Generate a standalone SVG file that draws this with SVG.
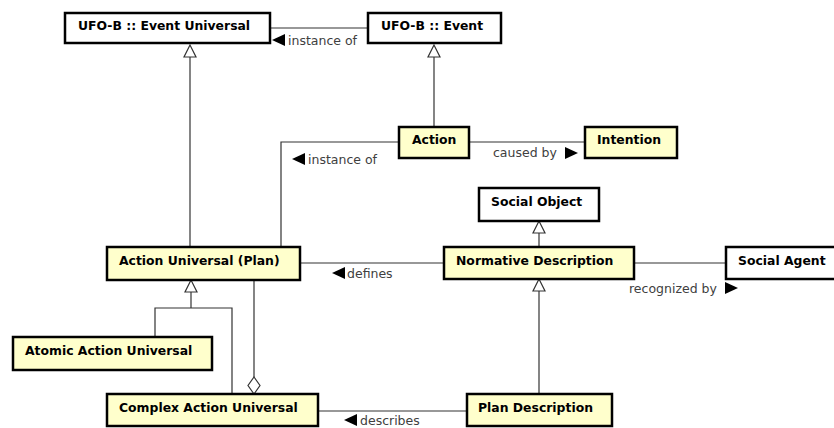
<svg xmlns="http://www.w3.org/2000/svg" width="834" height="428" viewBox="0 0 834 428">
  <style>
    .box { stroke: #000; stroke-width: 2.5; }
    .plain { fill: #ffffff; }
    .yellow { fill: #ffffcc; }
    .name { font-family: "DejaVu Sans", sans-serif; font-size: 12.4px; font-weight: bold; fill: #000; }
    .edge { fill: none; stroke: #333; stroke-width: 1.2; }
    .lbl { font-family: "DejaVu Sans", sans-serif; font-size: 12.5px; fill: #404040; }
    .tri { fill: #000; }
    .gen { fill: #fff; stroke: #333; stroke-width: 1.2; }
  </style>

  <!-- connectors -->
  <g id="connectors">
    <!-- Event -> Event Universal : instance of -->
    <line class="edge" x1="270" y1="28" x2="368" y2="28"/>
    <polygon class="tri" points="272,40 285,34 285,46"/>
    <text class="lbl" x="288" y="45">instance of</text>

    <!-- Action Universal (Plan) generalizes Event Universal -->
    <line class="edge" x1="190" y1="57" x2="190" y2="247"/>
    <polygon class="gen" points="190,45 184,57 196,57"/>

    <!-- Action generalizes Event -->
    <line class="edge" x1="434" y1="57" x2="434" y2="127"/>
    <polygon class="gen" points="434,45 428,57 440,57"/>

    <!-- Action -> Intention : caused by -->
    <line class="edge" x1="469" y1="142" x2="585" y2="142"/>
    <text class="lbl" x="493" y="157">caused by</text>
    <polygon class="tri" points="578,153 565,147 565,159"/>

    <!-- Action -> Action Universal : instance of -->
    <polyline class="edge" points="399,142 281,142 281,247"/>
    <polygon class="tri" points="292,159 305,153 305,165"/>
    <text class="lbl" x="308" y="164">instance of</text>

    <!-- Normative Description generalizes Social Object -->
    <line class="edge" x1="539" y1="233" x2="539" y2="247"/>
    <polygon class="gen" points="539,221 533,233 545,233"/>

    <!-- Action Universal (Plan) - Normative Description : defines -->
    <line class="edge" x1="300" y1="263" x2="444" y2="263"/>
    <polygon class="tri" points="332,273 345,267 345,279"/>
    <text class="lbl" x="347" y="278">defines</text>

    <!-- Normative Description - Social Agent : recognized by -->
    <line class="edge" x1="634" y1="263" x2="726" y2="263"/>
    <text class="lbl" x="629" y="293">recognized by</text>
    <polygon class="tri" points="738,288 725,282 725,294"/>

    <!-- Atomic / Complex generalize Action Universal (Plan) -->
    <polygon class="gen" points="191,280 185,292 197,292"/>
    <line class="edge" x1="191" y1="292" x2="191" y2="308"/>
    <polyline class="edge" points="155,337 155,308 232,308 232,394"/>

    <!-- Complex Action Universal aggregates Action Universal (Plan) -->
    <line class="edge" x1="254" y1="280" x2="254" y2="377"/>
    <polygon class="gen" points="254,377 260,385.5 254,394 248,385.5"/>

    <!-- Plan Description generalizes Normative Description -->
    <line class="edge" x1="539" y1="291" x2="539" y2="394"/>
    <polygon class="gen" points="539,279 533,291 545,291"/>

    <!-- Complex Action Universal - Plan Description : describes -->
    <line class="edge" x1="318" y1="411" x2="467" y2="411"/>
    <polygon class="tri" points="344,420 357,414 357,426"/>
    <text class="lbl" x="360" y="425">describes</text>
  </g>

  <!-- nodes -->
  <g id="event-universal">
    <rect class="box plain" x="65" y="13" width="205" height="30"/>
    <text class="name" x="78" y="30">UFO-B :: Event Universal</text>
  </g>
  <g id="event">
    <rect class="box plain" x="368" y="13" width="133" height="30"/>
    <text class="name" x="381" y="30">UFO-B :: Event</text>
  </g>
  <g id="action">
    <rect class="box yellow" x="399" y="127" width="70" height="31"/>
    <text class="name" x="412" y="144">Action</text>
  </g>
  <g id="intention">
    <rect class="box yellow" x="585" y="127" width="92" height="31"/>
    <text class="name" x="597" y="144">Intention</text>
  </g>
  <g id="social-object">
    <rect class="box plain" x="479" y="188" width="120" height="33"/>
    <text class="name" x="491" y="206">Social Object</text>
  </g>
  <g id="action-universal-plan">
    <rect class="box yellow" x="107" y="247" width="193" height="33"/>
    <text class="name" x="119" y="265">Action Universal (Plan)</text>
  </g>
  <g id="normative-description">
    <rect class="box yellow" x="444" y="247" width="190" height="32"/>
    <text class="name" x="456" y="265">Normative Description</text>
  </g>
  <g id="social-agent">
    <rect class="box plain" x="726" y="247" width="114" height="32"/>
    <text class="name" x="738" y="265">Social Agent</text>
  </g>
  <g id="atomic-action-universal">
    <rect class="box yellow" x="13" y="337" width="199" height="33"/>
    <text class="name" x="25" y="355">Atomic Action Universal</text>
  </g>
  <g id="complex-action-universal">
    <rect class="box yellow" x="107" y="394" width="211" height="32"/>
    <text class="name" x="119" y="412">Complex Action Universal</text>
  </g>
  <g id="plan-description">
    <rect class="box yellow" x="467" y="394" width="145" height="32"/>
    <text class="name" x="478" y="412">Plan Description</text>
  </g>
</svg>
